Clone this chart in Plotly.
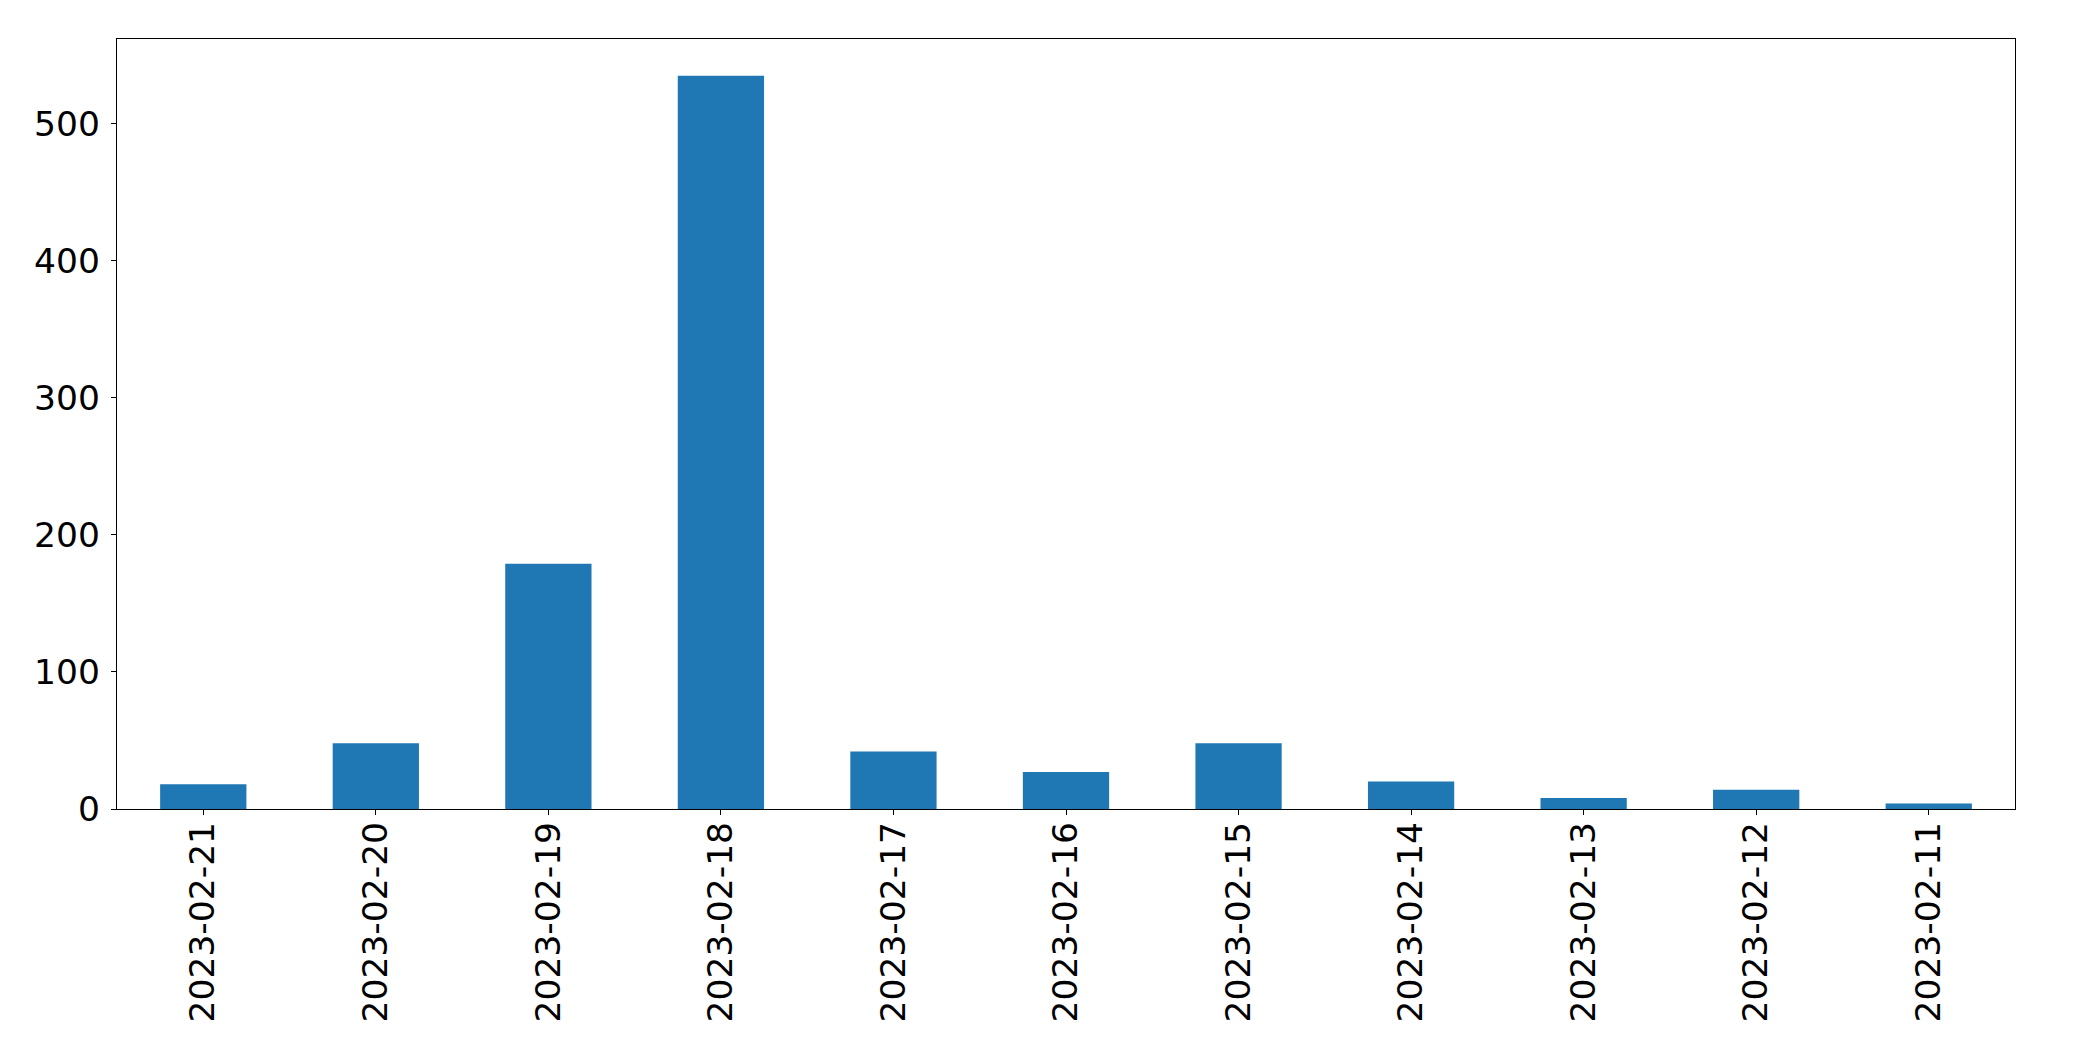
import plotly.graph_objects as go

dates = ["2023-02-21", "2023-02-20", "2023-02-19", "2023-02-18", "2023-02-17",
         "2023-02-16", "2023-02-15", "2023-02-14", "2023-02-13", "2023-02-12", "2023-02-11"]
counts = [18, 48, 179, 535, 42, 27, 48, 20, 8, 14, 4]
y_ticks = [0, 100, 200, 300, 400, 500]

fig = go.Figure(go.Bar(
    x=list(range(len(dates))), y=counts, width=0.5,
    marker=dict(color="#1f77b4", line=dict(width=0)),
))

axis_common = dict(showline=True, linecolor="black", linewidth=1.3, mirror=True,
                   showgrid=False, zeroline=False, ticks="outside", ticklen=5,
                   tickcolor="black", tickwidth=1.3,
                   tickfont=dict(family="DejaVu Sans", size=34.5, color="black"))

fig.update_xaxes(range=[-0.5, len(dates) - 0.5], tickmode="array",
                 tickvals=list(range(len(dates))), ticktext=dates, tickangle=-90,
                 ticklabelstandoff=-7, **axis_common)
fig.update_yaxes(range=[0, 561.75], tickmode="array", tickvals=y_ticks,
                 ticktext=[str(v) for v in y_ticks], ticklabelstandoff=4,
                 **axis_common)

fig.update_layout(width=2093, height=1061, margin=dict(l=109, r=86, t=31, b=260),
                  plot_bgcolor="white", paper_bgcolor="white", showlegend=False)

fig.write_html("out.html")
